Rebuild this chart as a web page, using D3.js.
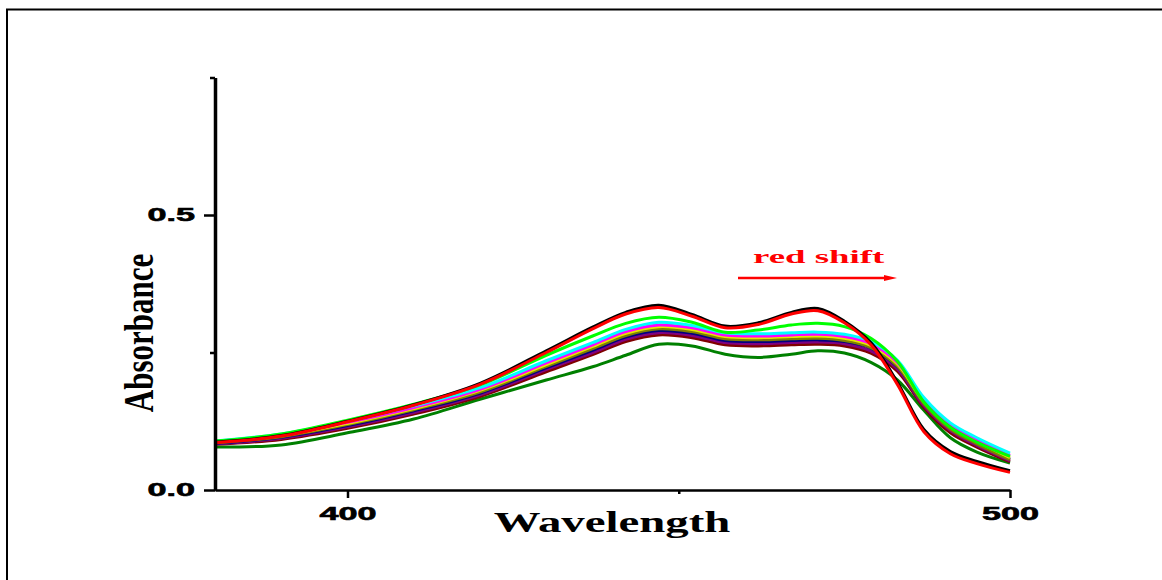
<!DOCTYPE html>
<html>
<head>
<meta charset="utf-8">
<script src="https://cdn.jsdelivr.net/npm/d3@7"></script>
<style>
  body { margin: 0; background: #fff; }
  svg { display: block; }
</style>
</head>
<body>
<div id="chartArea"></div>
<script>
// wavelengths (nm) shared by every spectrum
var wavelength = [380, 390, 400, 410, 420, 430, 437, 442, 447, 452, 457, 462, 467, 471, 475, 479, 483, 487, 491, 495, 500];

// absorbance values, one array per spectrum
var absBlack     = [0.087, 0.099, 0.125, 0.155, 0.194, 0.253, 0.296, 0.323, 0.336, 0.319, 0.298, 0.304, 0.323, 0.330, 0.307, 0.268, 0.196, 0.110, 0.070, 0.052, 0.035];
var absRed       = [0.086, 0.098, 0.124, 0.154, 0.192, 0.250, 0.293, 0.320, 0.332, 0.316, 0.295, 0.301, 0.320, 0.326, 0.304, 0.264, 0.192, 0.106, 0.066, 0.048, 0.032];
var absLime      = [0.089, 0.102, 0.127, 0.156, 0.191, 0.245, 0.280, 0.303, 0.314, 0.305, 0.287, 0.291, 0.300, 0.303, 0.297, 0.276, 0.234, 0.160, 0.114, 0.087, 0.061];
var absCyan      = [0.089, 0.102, 0.125, 0.153, 0.186, 0.235, 0.268, 0.292, 0.305, 0.299, 0.286, 0.284, 0.286, 0.287, 0.283, 0.270, 0.236, 0.168, 0.122, 0.095, 0.067];
var absMagenta   = [0.088, 0.100, 0.123, 0.150, 0.183, 0.231, 0.264, 0.288, 0.300, 0.295, 0.282, 0.280, 0.282, 0.283, 0.279, 0.266, 0.232, 0.164, 0.119, 0.092, 0.063];
var absYellow    = [0.087, 0.099, 0.121, 0.148, 0.181, 0.228, 0.261, 0.285, 0.297, 0.292, 0.279, 0.277, 0.279, 0.280, 0.276, 0.263, 0.229, 0.161, 0.116, 0.089, 0.059];
var absOlive     = [0.086, 0.097, 0.119, 0.146, 0.178, 0.225, 0.257, 0.281, 0.293, 0.288, 0.275, 0.273, 0.275, 0.276, 0.272, 0.259, 0.225, 0.157, 0.111, 0.084, 0.055];
var absNavy      = [0.085, 0.096, 0.117, 0.144, 0.176, 0.222, 0.254, 0.278, 0.290, 0.285, 0.272, 0.270, 0.272, 0.273, 0.270, 0.258, 0.224, 0.158, 0.112, 0.085, 0.056];
var absPurple    = [0.084, 0.094, 0.115, 0.141, 0.173, 0.219, 0.250, 0.274, 0.286, 0.281, 0.268, 0.266, 0.268, 0.269, 0.266, 0.253, 0.220, 0.153, 0.108, 0.081, 0.053];
var absMaroon    = [0.083, 0.092, 0.112, 0.138, 0.170, 0.215, 0.246, 0.270, 0.282, 0.277, 0.264, 0.262, 0.264, 0.265, 0.262, 0.249, 0.216, 0.150, 0.104, 0.078, 0.051];
var absDarkGreen = [0.078, 0.082, 0.104, 0.129, 0.165, 0.200, 0.224, 0.245, 0.265, 0.262, 0.247, 0.241, 0.247, 0.253, 0.249, 0.232, 0.200, 0.145, 0.095, 0.069, 0.049];

// drawing order (bottom first) and colours
var seriesList = [absDarkGreen, absMaroon, absPurple, absNavy, absOlive, absYellow, absMagenta, absCyan, absLime, absBlack, absRed];
var seriesColors = ["#008000", "#800000", "#800080", "#000080", "#808000", "#e6e600", "#ff00ff", "#00ffff", "#00ff00", "#000000", "#ff0000"];

var xTicksMajor = [400, 500];
var xTicksMinor = [450];
var yTicksMajor = [0, 0.5];
var yTicksMinor = [0.25, 0.75];

var width = 1162, height = 580;

var svg = d3.select("#chartArea")
  .append("svg")
  .attr("width", width)
  .attr("height", height);

// outer frame (runs off the right and bottom of the page)
svg.append("path")
  .attr("d", "M7,590V9.5H1170")
  .attr("fill", "none")
  .attr("stroke", "#000")
  .attr("stroke-width", 2);

var x = d3.scaleLinear().domain([380, 500]).range([215, 1010]);
var y = d3.scaleLinear().domain([0, 0.75]).range([490, 77.5]);

var line = d3.line()
  .x(function (d) { return x(d[0]); })
  .y(function (d) { return y(d[1]); })
  .curve(d3.curveCatmullRom.alpha(0.5));

var plot = svg.append("g").attr("class", "spectra");
seriesList.forEach(function (vals, i) {
  var pts = wavelength.map(function (w, j) { return [w, vals[j]]; });
  plot.append("path")
    .datum(pts)
    .attr("d", line)
    .attr("fill", "none")
    .attr("stroke", seriesColors[i])
    .attr("stroke-width", 3)
    .attr("stroke-linejoin", "round");
});

// axes
var xAxis = svg.append("g")
  .attr("class", "axis axis--x")
  .attr("transform", "translate(0," + y(0) + ")")
  .call(d3.axisBottom(x).tickValues(xTicksMajor).tickSize(8).tickSizeOuter(0));
svg.append("g")
  .attr("transform", "translate(0," + y(0) + ")")
  .call(d3.axisBottom(x).tickValues(xTicksMinor).tickSize(4).tickSizeOuter(0).tickFormat(""));

var yAxis = svg.append("g")
  .attr("class", "axis axis--y")
  .attr("transform", "translate(" + x(380) + ",0)")
  .call(d3.axisLeft(y).tickValues(yTicksMajor).tickSize(11).tickSizeOuter(0).tickFormat(d3.format(".1f")));
svg.append("g")
  .attr("transform", "translate(" + x(380) + ",0)")
  .call(d3.axisLeft(y).tickValues(yTicksMinor).tickSize(5).tickSizeOuter(0).tickFormat(""));

svg.selectAll(".domain").attr("stroke", "#000");
svg.selectAll(".axis--x .domain").attr("stroke-width", 2.5);
svg.selectAll(".axis--y .domain").attr("stroke-width", 3.5);
svg.selectAll(".tick line").attr("stroke", "#000").attr("stroke-width", 2.5);

svg.selectAll(".axis text")
  .attr("fill", "#000")
  .attr("stroke", "#000")
  .attr("stroke-width", 0.6)
  .style("font-family", "'Liberation Sans', Arial, sans-serif")
  .style("font-weight", "bold")
  .style("font-size", "18px");

xAxis.selectAll("text")
  .attr("y", 17)
  .attr("transform", "scale(1.9,1)");

yAxis.selectAll("text")
  .attr("x", -10.5)
  .attr("transform", "scale(1.9,1)");

// axis titles (the picture is stretched sideways)
svg.append("text")
  .attr("transform", "translate(612,532) scale(1.56,1)")
  .attr("text-anchor", "middle")
  .style("font-family", "'Liberation Serif', 'Times New Roman', serif")
  .style("font-weight", "bold")
  .style("font-size", "30px")
  .text("Wavelength");

svg.append("text")
  .attr("transform", "translate(153,333) scale(1.37,1) rotate(-90)")
  .attr("text-anchor", "middle")
  .style("font-family", "'Liberation Serif', 'Times New Roman', serif")
  .style("font-weight", "bold")
  .style("font-size", "31px")
  .text("Absorbance");

// red shift note with arrow
svg.append("text")
  .attr("transform", "translate(753,263) scale(1.94,1)")
  .attr("fill", "#ff0000")
  .style("font-family", "'Liberation Serif', 'Times New Roman', serif")
  .style("font-weight", "bold")
  .style("font-size", "19px")
  .text("red shift");

svg.append("line")
  .attr("x1", 738).attr("x2", 886)
  .attr("y1", 278).attr("y2", 278)
  .attr("stroke", "#ff0000")
  .attr("stroke-width", 2.5);
svg.append("path")
  .attr("d", "M884,275L897,278L884,281Z")
  .attr("fill", "#ff0000");
</script>
</body>
</html>
